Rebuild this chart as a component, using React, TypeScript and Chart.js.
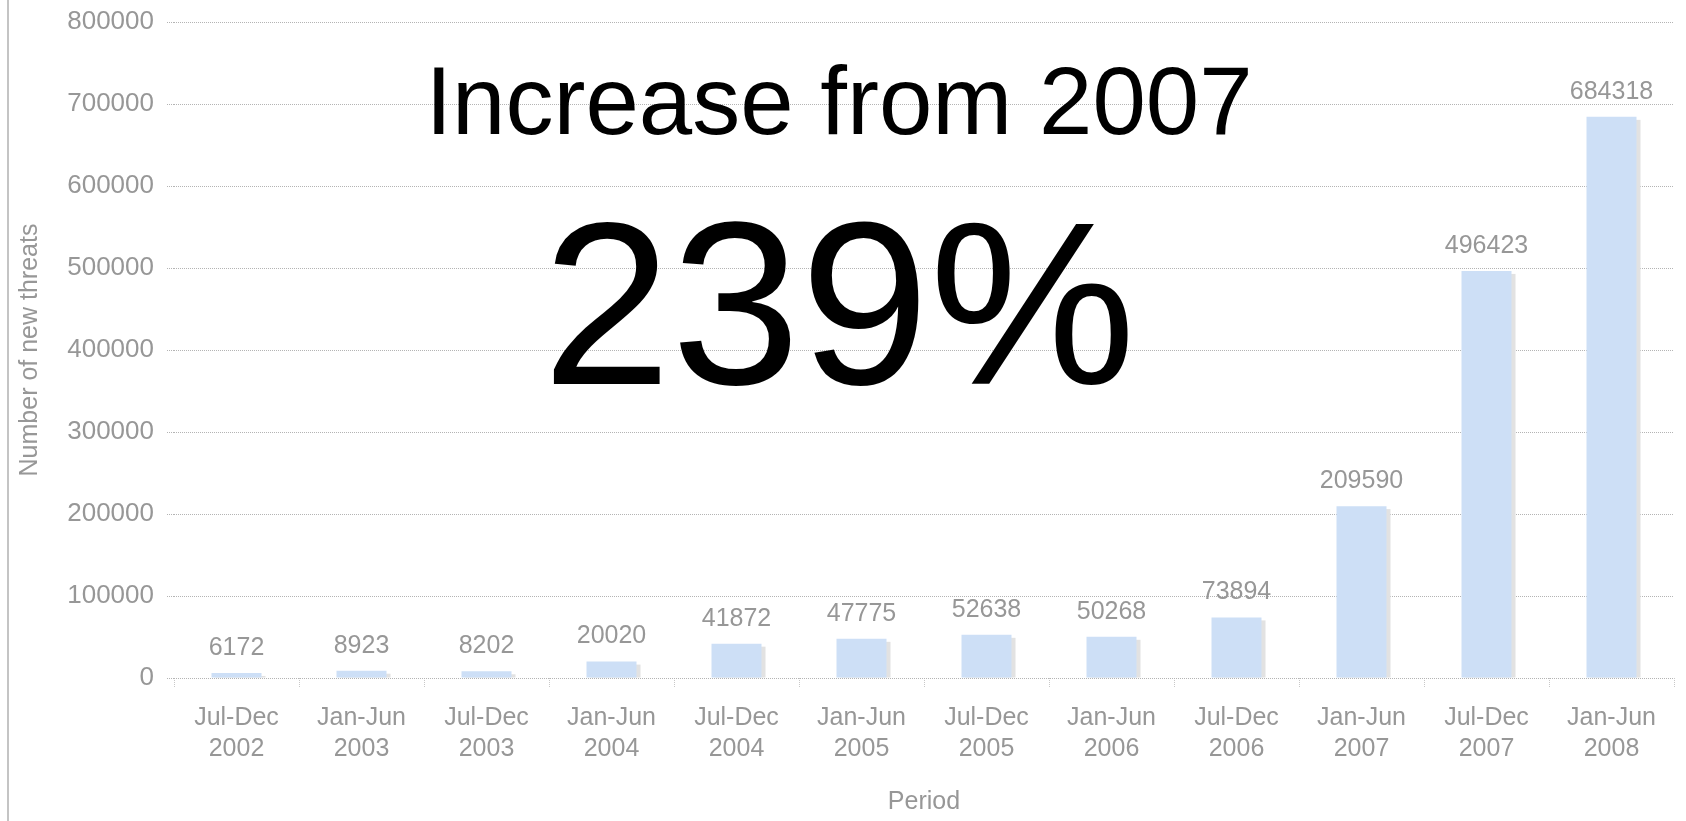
import React, { useEffect, useRef } from "react";
import { Chart, registerables } from "chart.js";

Chart.register(...registerables);

const periods: string[][] = [
  ["Jul-Dec", "2002"],
  ["Jan-Jun", "2003"],
  ["Jul-Dec", "2003"],
  ["Jan-Jun", "2004"],
  ["Jul-Dec", "2004"],
  ["Jan-Jun", "2005"],
  ["Jul-Dec", "2005"],
  ["Jan-Jun", "2006"],
  ["Jul-Dec", "2006"],
  ["Jan-Jun", "2007"],
  ["Jul-Dec", "2007"],
  ["Jan-Jun", "2008"],
];

const newThreats: number[] = [
  6172, 8923, 8202, 20020, 41872, 47775, 52638, 50268, 73894, 209590, 496423, 684318,
];

const yTitle = "Number of new threats";
const xTitle = "Period";
const headline = "Increase from 2007";
const bigNumber = "239%";

const FONT = '"Liberation Sans", Arial, sans-serif';
const GRAY = "#979797";

const decorPlugin = {
  id: "decor",
  beforeDraw(chart: any) {
    const ctx = chart.ctx;
    ctx.save();
    ctx.fillStyle = "#c4c4c4";
    ctx.fillRect(7, 0, 2, chart.height);
    ctx.restore();
  },
  beforeDatasetsDraw(chart: any) {
    const ctx = chart.ctx;
    const meta = chart.getDatasetMeta(0);
    ctx.save();
    ctx.fillStyle = "#e2e2e2";
    meta.data.forEach((el: any) => {
      const w = el.width;
      const top = el.y + 3;
      const h = el.base - top;
      if (h > 0) ctx.fillRect(el.x - w / 2 + 4, top, w, h);
    });
    ctx.restore();
  },
  afterDatasetsDraw(chart: any) {
    const ctx = chart.ctx;
    const meta = chart.getDatasetMeta(0);
    const data = chart.data.datasets[0].data;
    ctx.save();
    ctx.fillStyle = GRAY;
    ctx.font = `25px ${FONT}`;
    ctx.textAlign = "center";
    ctx.textBaseline = "middle";
    meta.data.forEach((el: any, i: number) => {
      ctx.fillText(String(data[i]), el.x, el.y - 25);
    });
    ctx.restore();
  },
  afterDraw(chart: any) {
    const ctx = chart.ctx;
    ctx.save();
    ctx.fillStyle = "#000";
    ctx.textAlign = "center";
    ctx.textBaseline = "alphabetic";
    ctx.font = `96px ${FONT}`;
    ctx.fillText(headline, 839, 134);
    ctx.font = `232px ${FONT}`;
    ctx.fillText(bigNumber, 839, 384);
    ctx.restore();
  },
};

export default function App() {
  const ref = useRef<HTMLCanvasElement | null>(null);

  useEffect(() => {
    if (!ref.current) return;
    const chart = new Chart(ref.current, {
      type: "bar",
      data: {
        labels: periods,
        datasets: [
          {
            data: newThreats,
            backgroundColor: "#cddff6",
            borderWidth: 0,
            barPercentage: 0.4,
            categoryPercentage: 1,
          },
        ],
      },
      options: {
        animation: false,
        responsive: false,
        layout: { padding: { left: 0, right: 12, top: 22, bottom: 0 } },
        plugins: { legend: { display: false }, tooltip: { enabled: false } },
        scales: {
          x: {
            grid: {
              display: true,
              drawOnChartArea: false,
              drawTicks: true,
              tickLength: 9,
              tickColor: "#c8c8c8",
              tickBorderDash: [1, 1],
              offset: true,
            },
            border: { display: false },
            ticks: {
              color: GRAY,
              font: { family: FONT, size: 25, lineHeight: 1.24 },
              padding: 16,
              maxRotation: 0,
              autoSkip: false,
            },
            title: {
              display: true,
              text: xTitle,
              color: GRAY,
              font: { family: FONT, size: 25 },
              padding: { top: 0, bottom: 4 },
            },
            afterFit: (s: any) => {
              s.height = 143;
            },
          },
          y: {
            min: 0,
            max: 800000,
            grid: {
              color: "#b4b4b4",
              drawTicks: true,
              tickLength: 7,
              tickColor: "#b4b4b4",
              tickBorderDash: [1, 1],
            },
            border: { display: false, dash: [1, 1] },
            ticks: {
              stepSize: 100000,
              color: GRAY,
              font: { family: FONT, size: 26, lineHeight: 1 },
              padding: 13,
              callback: (v: any) => String(v),
            },
            title: {
              display: true,
              text: yTitle,
              color: GRAY,
              font: { family: FONT, size: 25 },
              padding: { top: 15, bottom: 0 },
            },
            afterFit: (s: any) => {
              s.width = 174;
              s.paddingTop = 0;
              s.paddingBottom = 0;
            },
          },
        },
      },
      plugins: [decorPlugin],
    });
    return () => chart.destroy();
  }, []);

  return (
    <div style={{ position: "fixed", left: 0, top: 0, width: 1686, height: 821, background: "#fff" }}>
      <canvas ref={ref} width={1686} height={821} style={{ display: "block" }} />
    </div>
  );
}
